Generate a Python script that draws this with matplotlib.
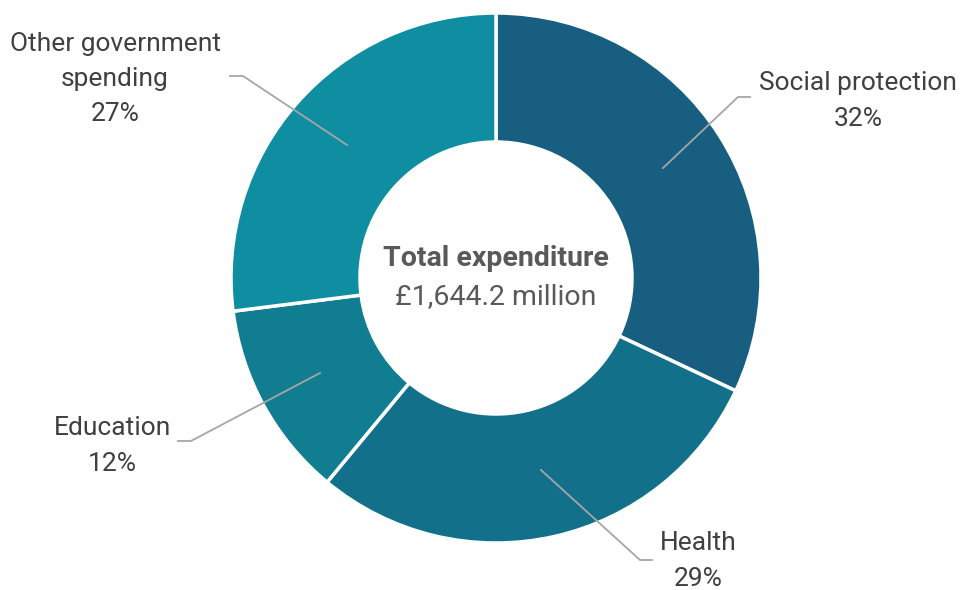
import matplotlib.pyplot as plt

categories = ["Social protection", "Health", "Education", "Other government\nspending"]
shares = [32, 29, 12, 27]
colors = ["#175E80", "#13708A", "#107D91", "#0E8EA0"]
total_label = "£1,644.2 million"

W, H = 960, 590

fig = plt.figure(figsize=(9.6, 5.9), dpi=100)
ax = fig.add_axes([0, 0, 1, 1])

cx, cy, r = 496, H - 278, 265
ax.pie(shares, colors=colors, startangle=90, counterclock=False,
       center=(cx, cy), radius=r, frame=True,
       wedgeprops=dict(width=r - 136, edgecolor="white", linewidth=2.5))
ax.set_xlim(0, W)
ax.set_ylim(0, H)
ax.set_aspect("equal")
ax.axis("off")

# label centres and leader lines, in pixel coords from the top-left
label_pos = [(858, 101), (698, 561), (112, 446), (115, 79)]
leaders = [
    [(663, 168), (738, 97), (750, 97)],
    [(541, 470), (640, 560), (652, 560)],
    [(320, 373), (191, 441), (178, 441)],
    [(347, 145), (243, 76), (230, 76)],
]

font = ["Roboto", "DejaVu Sans"]
for name, pct, (lx, ly), pts in zip(categories, shares, label_pos, leaders):
    ax.text(lx, H - ly, f"{name}\n{pct}%", ha="center", va="center",
            linespacing=1.6, family=font, color="#404040", fontsize=19)
    ax.plot([p[0] for p in pts], [H - p[1] for p in pts], color="#A6A6A6", lw=1.3)

ax.text(cx, H - 258, "Total expenditure", ha="center", va="center",
        family=font, fontsize=20.5, fontweight="bold", color="#595959")
ax.text(cx, H - 297, total_label, ha="center", va="center",
        family=font, fontsize=20.5, color="#595959")

fig.savefig("out.png", dpi=100)
